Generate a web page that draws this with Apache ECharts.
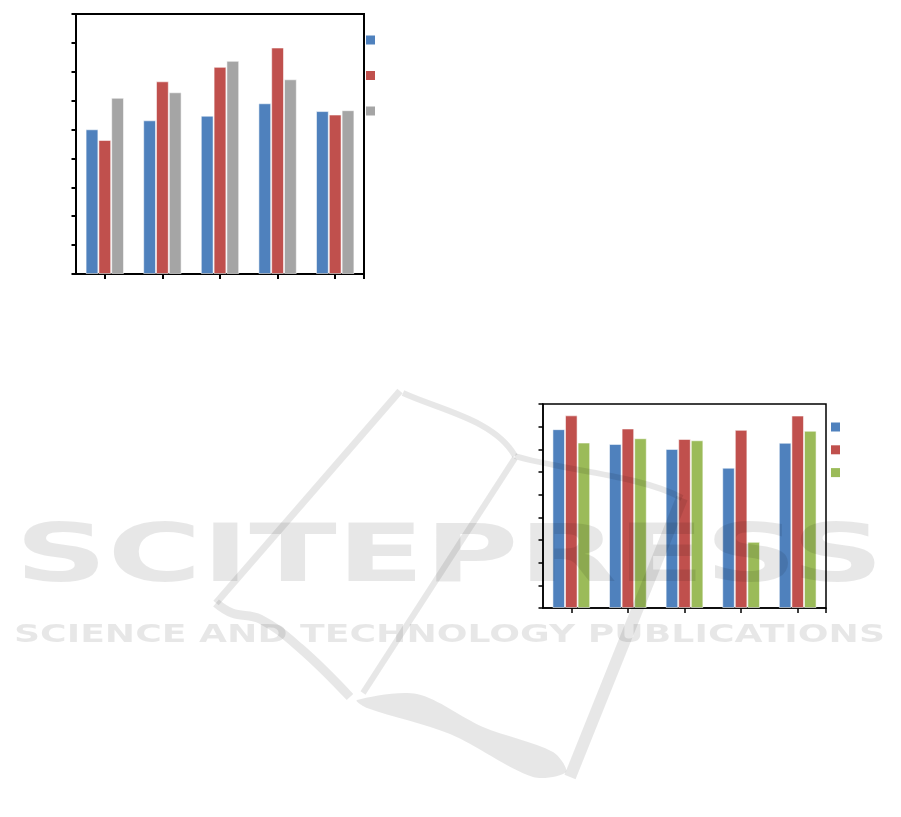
<!DOCTYPE html>
<html>
<head>
<meta charset="utf-8">
<script src="https://cdn.jsdelivr.net/npm/echarts@6/dist/echarts.min.js"></script>
<style>
html,body{margin:0;padding:0;background:#fff;}
#main{width:901px;height:817px;}
</style>
</head>
<body>
<div id="main"></div>
<script>
// ---- data ----
const categories = ['C1', 'C2', 'C3', 'C4', 'C5'];
const chart1Names = ['Series 1', 'Series 2', 'Series 3'];
const chart1Blue = [5.01, 5.32, 5.48, 5.91, 5.64];
const chart1Red = [4.64, 6.67, 7.17, 7.84, 5.52];
const chart1Gray = [6.10, 6.29, 7.38, 6.74, 5.67];
const chart2Names = ['Series A', 'Series B', 'Series C'];
const chart2Blue = [7.89, 7.24, 7.02, 6.19, 7.29];
const chart2Red = [8.50, 7.92, 7.46, 7.86, 8.49];
const chart2Green = [7.30, 7.49, 7.40, 2.92, 7.82];
const yMin = 0, yMax = 9, yStep = 1;
const watermarkTitle = 'SCITEPRESS';
const watermarkSub = 'SCIENCE AND TECHNOLOGY PUBLICATIONS';

// ---- styling helpers ----
const BLUE = '#4F81BD', RED = '#C0504D', GRAY = '#A5A5A5', GREEN = '#9BBB59';
const WM = 'rgba(0,0,0,0.095)';

function measure(text, font) {
  const c = document.createElement('canvas').getContext('2d');
  c.font = font;
  return c.measureText(text).width;
}
const titleFont = 'bold 80px "DejaVu Sans"';
const subFont = 'bold 25px "DejaVu Sans"';
const titleScale = 869 / measure(watermarkTitle, titleFont);
const subScale = 871 / measure(watermarkSub, subFont);

function bar(name, data, color, xi, yi) {
  return {
    type: 'bar', name: name, data: data, xAxisIndex: xi, yAxisIndex: yi,
    barGap: '0%', barCategoryGap: '33.3%',
    itemStyle: { color: color, borderColor: 'rgba(255,255,255,0.55)', borderWidth: 1 },
    emphasis: { disabled: true },
    z: 2
  };
}
function catAxis(gi, lw) {
  return {
    type: 'category', gridIndex: gi, data: categories, position: 'bottom',
    axisLine: { show: true, lineStyle: { color: '#000', width: lw } },
    axisTick: { show: true, alignWithLabel: true, length: 5, lineStyle: { color: '#000', width: lw } },
    axisLabel: { show: false }, splitLine: { show: false }
  };
}
function edgeAxis(gi, lw) {
  return {
    type: 'value', gridIndex: gi, min: 0, max: categories.length, position: 'bottom',
    axisLine: { show: false },
    axisTick: { show: true, customValues: [categories.length], length: 5, lineStyle: { color: '#000', width: lw } },
    axisLabel: { show: false }, splitLine: { show: false }
  };
}
function valAxis(gi, lw) {
  return {
    type: 'value', gridIndex: gi, min: yMin, max: yMax, interval: yStep,
    axisLine: { show: true, lineStyle: { color: '#000', width: lw } },
    axisTick: { show: true, length: 4.5, lineStyle: { color: '#000', width: lw } },
    axisLabel: { show: false }, splitLine: { show: false }
  };
}
function legend(names, left, top, gap) {
  return {
    data: names, orient: 'vertical', left: left, top: top, padding: 0,
    itemWidth: 9, itemHeight: 9, itemGap: gap, icon: 'rect',
    itemStyle: { borderWidth: 0, borderColor: 'transparent' },
    formatter: function () { return ''; }, textStyle: { fontSize: 1 }, selectedMode: false
  };
}
function wmStroke(type, shape, lw) {
  return { type: type, z: 100, silent: true, shape: shape,
    style: { fill: null, stroke: WM, lineWidth: lw } };
}

const chart = echarts.init(document.getElementById('main'), null, { renderer: 'canvas' });
const option = {
  animation: false,
  backgroundColor: '#fff',
  grid: [
    { left: 76, top: 14, width: 288, height: 260, show: true, borderColor: '#000', borderWidth: 2, backgroundColor: 'transparent' },
    { left: 543, top: 404, width: 283, height: 204, show: true, borderColor: '#000', borderWidth: 1.5, backgroundColor: 'transparent' }
  ],
  xAxis: [catAxis(0, 2), catAxis(1, 1.5), edgeAxis(0, 2), edgeAxis(1, 1.5)],
  yAxis: [valAxis(0, 2), valAxis(1, 1.5)],
  legend: [legend(chart1Names, 366, 35.5, 26.5), legend(chart2Names, 831, 422.5, 13.8)],
  series: [
    bar(chart1Names[0], chart1Blue, BLUE, 0, 0),
    bar(chart1Names[1], chart1Red, RED, 0, 0),
    bar(chart1Names[2], chart1Gray, GRAY, 0, 0),
    bar(chart2Names[0], chart2Blue, BLUE, 1, 1),
    bar(chart2Names[1], chart2Red, RED, 1, 1),
    bar(chart2Names[2], chart2Green, GREEN, 1, 1)
  ],
  graphic: [
    wmStroke('line', { x1: 400, y1: 391, x2: 216, y2: 603 }, 7),
    wmStroke('polyline', { points: [[216, 603], [232, 613], [260, 619], [300, 648], [350, 697]], smooth: 0.4 }, 9),
    wmStroke('bezierCurve', { x1: 403, y1: 393, cpx1: 440, cpy1: 410, cpx2: 495, cpy2: 420, x2: 515, y2: 456 }, 6),
    wmStroke('bezierCurve', { x1: 515, y1: 456, cpx1: 560, cpy1: 470, cpx2: 640, cpy2: 475, x2: 682, y2: 498 }, 6),
    wmStroke('line', { x1: 515, y1: 458, x2: 363, y2: 693 }, 6),
    wmStroke('line', { x1: 682, y1: 498, x2: 570, y2: 777 }, 12),
    { type: 'polygon', z: 100, silent: true,
      shape: { points: [[357, 700], [417, 694], [483, 727], [553, 752], [566, 772], [533, 777], [450, 734], [367, 708]], smooth: 0.3 },
      style: { fill: WM, stroke: null } },
    { type: 'text', z: 101, silent: true, x: 15, y: 560, scaleX: titleScale,
      style: { text: watermarkTitle, font: titleFont, fill: WM, textAlign: 'left', textVerticalAlign: 'middle' } },
    { type: 'text', z: 101, silent: true, x: 14, y: 635, scaleX: subScale,
      style: { text: watermarkSub, font: subFont, fill: WM, textAlign: 'left', textVerticalAlign: 'middle' } }
  ]
};
chart.setOption(option);
</script>
</body>
</html>
